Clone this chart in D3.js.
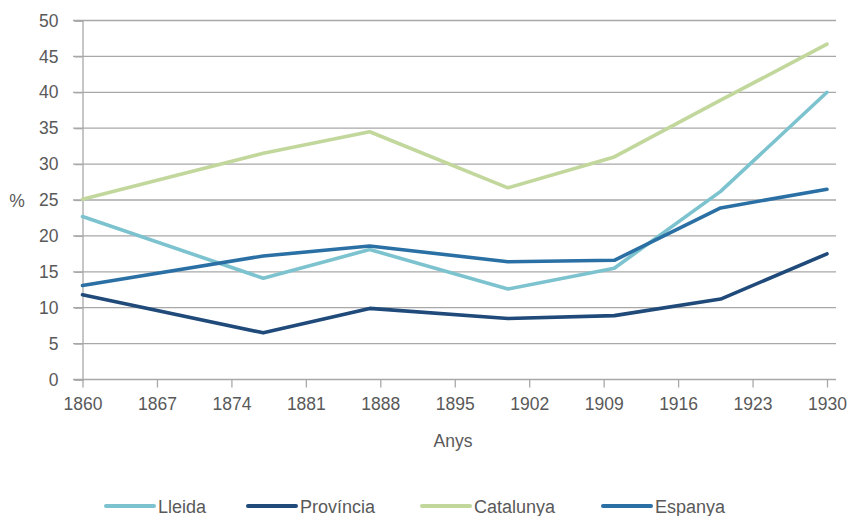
<!DOCTYPE html>
<html>
<head>
<meta charset="utf-8">
<script src="https://cdn.jsdelivr.net/npm/d3@7"></script>
<style>
  html, body { margin: 0; padding: 0; background: #ffffff; }
  svg { display: block; font-family: "Liberation Sans", Arial, Helvetica, sans-serif; }
</style>
</head>
<body>
<svg id="chart" width="853" height="516"></svg>
<script>
const years = [1860, 1877, 1887, 1900, 1910, 1920, 1930];
const lleida    = [22.7, 14.1, 18.1, 12.6, 15.5, 26.2, 40.0];
const provincia = [11.8, 6.5, 9.9, 8.5, 8.9, 11.2, 17.5];
const catalunya = [25.1, 31.5, 34.5, 26.7, 31.0, 38.9, 46.7];
const espanya   = [13.1, 17.2, 18.6, 16.4, 16.6, 23.9, 26.5];
const xTicks = [1860, 1867, 1874, 1881, 1888, 1895, 1902, 1909, 1916, 1923, 1930];
const yTicks = [0, 5, 10, 15, 20, 25, 30, 35, 40, 45, 50];
const seriesNames = ["Lleida", "Província", "Catalunya", "Espanya"];
const seriesColors = ["#7cc3cf", "#1f4a7a", "#c2d79c", "#2b70a4"];
const seriesValues = [lleida, provincia, catalunya, espanya];

const svg = d3.select("#chart");
const textColor = "#595959";
const gridColor = "#a8a8a8";

const x = d3.scaleLinear().domain([1860, 1930]).range([82.5, 827]);
const y = d3.scaleLinear().domain([0, 50]).range([379.5, 20.5]);

// gridlines
svg.append("g")
  .selectAll("line")
  .data(yTicks)
  .join("line")
  .attr("x1", 73).attr("x2", 836)
  .attr("y1", d => y(d)).attr("y2", d => y(d))
  .attr("stroke", gridColor).attr("stroke-width", 1.3);

// y axis
const yAxis = svg.append("g")
  .attr("transform", `translate(${x(1860)},0)`)
  .call(d3.axisLeft(y).tickValues(yTicks).tickSize(8).tickPadding(16));
yAxis.select(".domain").attr("stroke", gridColor).attr("stroke-width", 1.3);
yAxis.selectAll(".tick line").attr("stroke", gridColor).attr("stroke-width", 1.3);
yAxis.selectAll(".tick text").attr("fill", textColor).attr("font-size", 17.5)
  .attr("font-family", "'Liberation Sans', Arial, sans-serif");

// x axis
const xAxis = svg.append("g")
  .attr("transform", `translate(0,${y(0)})`)
  .call(d3.axisBottom(x).tickValues(xTicks).tickFormat(d3.format("d")).tickSize(8).tickPadding(10));
xAxis.select(".domain").remove();
xAxis.selectAll(".tick line").attr("stroke", gridColor).attr("stroke-width", 1.3);
xAxis.selectAll(".tick text").attr("fill", textColor).attr("font-size", 17.5)
  .attr("font-family", "'Liberation Sans', Arial, sans-serif");

// axis titles
svg.append("text").attr("x", 17).attr("y", 207).attr("text-anchor", "middle")
  .attr("fill", textColor).attr("font-size", 17.5).text("%");
svg.append("text").attr("x", 453).attr("y", 447).attr("text-anchor", "middle")
  .attr("fill", textColor).attr("font-size", 17.5).text("Anys");

// lines
const line = d3.line().x((d, i) => x(years[i])).y(d => y(d));
svg.append("g")
  .selectAll("path")
  .data(seriesValues)
  .join("path")
  .attr("d", d => line(d))
  .attr("fill", "none")
  .attr("stroke", (d, i) => seriesColors[i])
  .attr("stroke-width", 3.6)
  .attr("stroke-linecap", "round")
  .attr("stroke-linejoin", "round");

// legend
const legendX = [106, 248, 422, 603];
const legend = svg.append("g")
  .selectAll("g")
  .data(seriesNames)
  .join("g")
  .attr("transform", (d, i) => `translate(${legendX[i]},506)`);
legend.append("line")
  .attr("x1", 0).attr("x2", 48).attr("y1", 0).attr("y2", 0)
  .attr("stroke", (d, i) => seriesColors[i]).attr("stroke-width", 4)
  .attr("stroke-linecap", "round");
legend.append("text")
  .attr("x", 52).attr("y", 7)
  .attr("fill", textColor).attr("font-size", 18)
  .text(d => d);
</script>
</body>
</html>
